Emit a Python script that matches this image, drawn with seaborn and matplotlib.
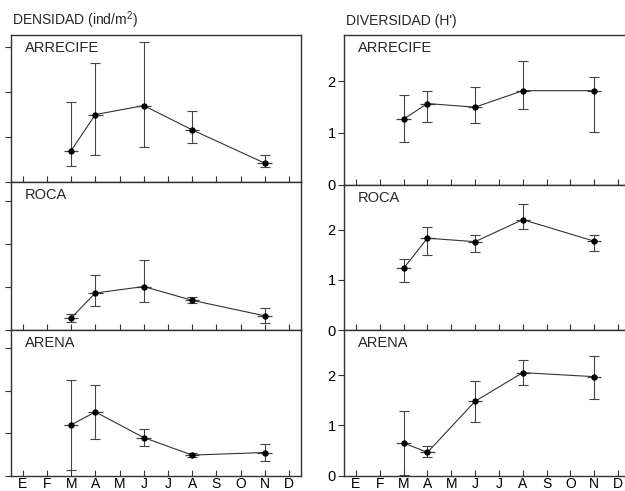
import numpy as np
import pandas as pd
import seaborn as sns
import matplotlib
matplotlib.use("Agg")
import matplotlib.pyplot as plt

# sampled months (1 = E ... 12 = D)
months = [3, 4, 6, 8, 11]
month_labels = ["E", "F", "M", "A", "M", "J", "J", "A", "S", "O", "N", "D"]
sites = ["ARRECIFE", "ROCA", "ARENA"]

# density (ind/m2): mean, lower and upper limit of the bars
dens_arrecife = [7.0, 15.0, 17.0, 11.6, 4.2]
dens_arrecife_lo = [3.6, 6.1, 7.8, 8.7, 3.3]
dens_arrecife_hi = [17.8, 26.4, 31.1, 15.9, 5.9]
dens_roca = [2.8, 8.6, 10.1, 6.9, 3.3]
dens_roca_lo = [1.8, 5.5, 6.6, 6.3, 1.7]
dens_roca_hi = [3.7, 12.9, 16.3, 7.7, 5.0]
dens_arena = [12.0, 15.0, 9.0, 4.9, 5.5]
dens_arena_lo = [1.4, 8.7, 7.0, 4.5, 3.4]
dens_arena_hi = [22.6, 21.3, 10.9, 5.3, 7.6]

# diversity (H')
div_arrecife = [1.27, 1.57, 1.50, 1.82, 1.82]
div_arrecife_lo = [0.83, 1.22, 1.20, 1.47, 1.01]
div_arrecife_hi = [1.73, 1.82, 1.90, 2.40, 2.08]
div_roca = [1.23, 1.83, 1.76, 2.20, 1.77]
div_roca_lo = [0.96, 1.49, 1.55, 2.02, 1.57]
div_roca_hi = [1.41, 2.05, 1.90, 2.52, 1.89]
div_arena = [0.65, 0.46, 1.48, 2.05, 1.97]
div_arena_lo = [0.01, 0.36, 1.07, 1.80, 1.52]
div_arena_hi = [1.29, 0.59, 1.89, 2.30, 2.39]

dens = {
    "ARRECIFE": (dens_arrecife, dens_arrecife_lo, dens_arrecife_hi),
    "ROCA": (dens_roca, dens_roca_lo, dens_roca_hi),
    "ARENA": (dens_arena, dens_arena_lo, dens_arena_hi),
}
div = {
    "ARRECIFE": (div_arrecife, div_arrecife_lo, div_arrecife_hi),
    "ROCA": (div_roca, div_roca_lo, div_roca_hi),
    "ARENA": (div_arena, div_arena_lo, div_arena_hi),
}

sns.set_style("ticks")
plt.rcParams['font.family'] = ['Liberation Sans', 'DejaVu Sans']
plt.rcParams['mathtext.fontset'] = 'custom'
plt.rcParams['mathtext.rm'] = 'Liberation Sans'

W, H = 625, 491
fig = plt.figure(figsize=(W / 100, H / 100), dpi=100)

line_col = "#333333"
err_col = "#444444"


def make_ax(x0, x1, y0, y1):
    return fig.add_axes([x0 / W, 1 - y1 / H, (x1 - x0) / W, (y1 - y0) / H])


def draw_panel(ax, site, values, ylim, yticks, show_ylabels, show_xlabels):
    mean, lo, hi = values
    df = pd.DataFrame({"month": months, "value": mean})
    yerr = np.array([np.array(mean) - np.array(lo), np.array(hi) - np.array(mean)])
    ax.errorbar(months, mean, yerr=yerr, fmt="none", ecolor=err_col,
                elinewidth=0.8, capsize=3.5, capthick=0.8, zorder=2)
    ax.errorbar(months, mean, xerr=0.3, fmt="none", ecolor=err_col,
                elinewidth=0.9, capsize=0, zorder=2)
    sns.lineplot(data=df, x="month", y="value", ax=ax, color=line_col,
                 linewidth=0.8, marker="o", markersize=3.8,
                 markerfacecolor="black", markeredgecolor="black", zorder=3)
    ax.set_xlim(0.5, 12.5)
    ax.set_ylim(*ylim)
    ax.set_yticks(yticks)
    ax.set_xticks(range(1, 13))
    ax.set_xlabel("")
    ax.set_ylabel("")
    ax.tick_params(axis="x", direction="in", length=4, width=0.8,
                   colors="#333333", pad=1, labelsize=10,
                   labelbottom=show_xlabels)
    ax.tick_params(axis="x", labelcolor="black")
    ax.tick_params(axis="y", direction="out", length=4.5, width=0.8,
                   colors="#333333", pad=1.5, labelsize=10.5,
                   labelleft=show_ylabels)
    ax.tick_params(axis="y", labelcolor="black")
    if show_xlabels:
        ax.set_xticklabels(month_labels)
    for sp in ax.spines.values():
        sp.set_visible(True)
        sp.set_color("#333333")
        sp.set_linewidth(1.0)
    ax.text(14 / ((ax.get_position().width) * W), 1 - 6 / (ax.get_position().height * H),
            site, transform=ax.transAxes, ha="left", va="top", fontsize=10.5)


# left column: density (no y tick labels)
left_rows = [(35, 182), (182, 330), (330, 476)]
left_ylims = [(0, 32.7), (0, 34.4), (0, 34.2)]
for i, site in enumerate(sites):
    ax = make_ax(10.7, 301, *left_rows[i])
    draw_panel(ax, site, dens[site], left_ylims[i], [0, 10, 20, 30],
               show_ylabels=False, show_xlabels=(i == 2))

# right column: diversity
right_rows = [(35, 184.5), (184.5, 330), (330, 475.5)]
for i, site in enumerate(sites):
    ax = make_ax(344, 630, *right_rows[i])
    draw_panel(ax, site, div[site], (0, 2.9), [0, 1, 2],
               show_ylabels=True, show_xlabels=(i == 2))

fig.text(12 / W, 1 - 25 / H, r"DENSIDAD (ind/m$^2$)", ha="left", va="baseline",
         fontsize=10)
fig.text(345.5 / W, 1 - 25 / H, "DIVERSIDAD (H')", ha="left", va="baseline",
         fontsize=10)

fig.savefig("out.png", dpi=100)
